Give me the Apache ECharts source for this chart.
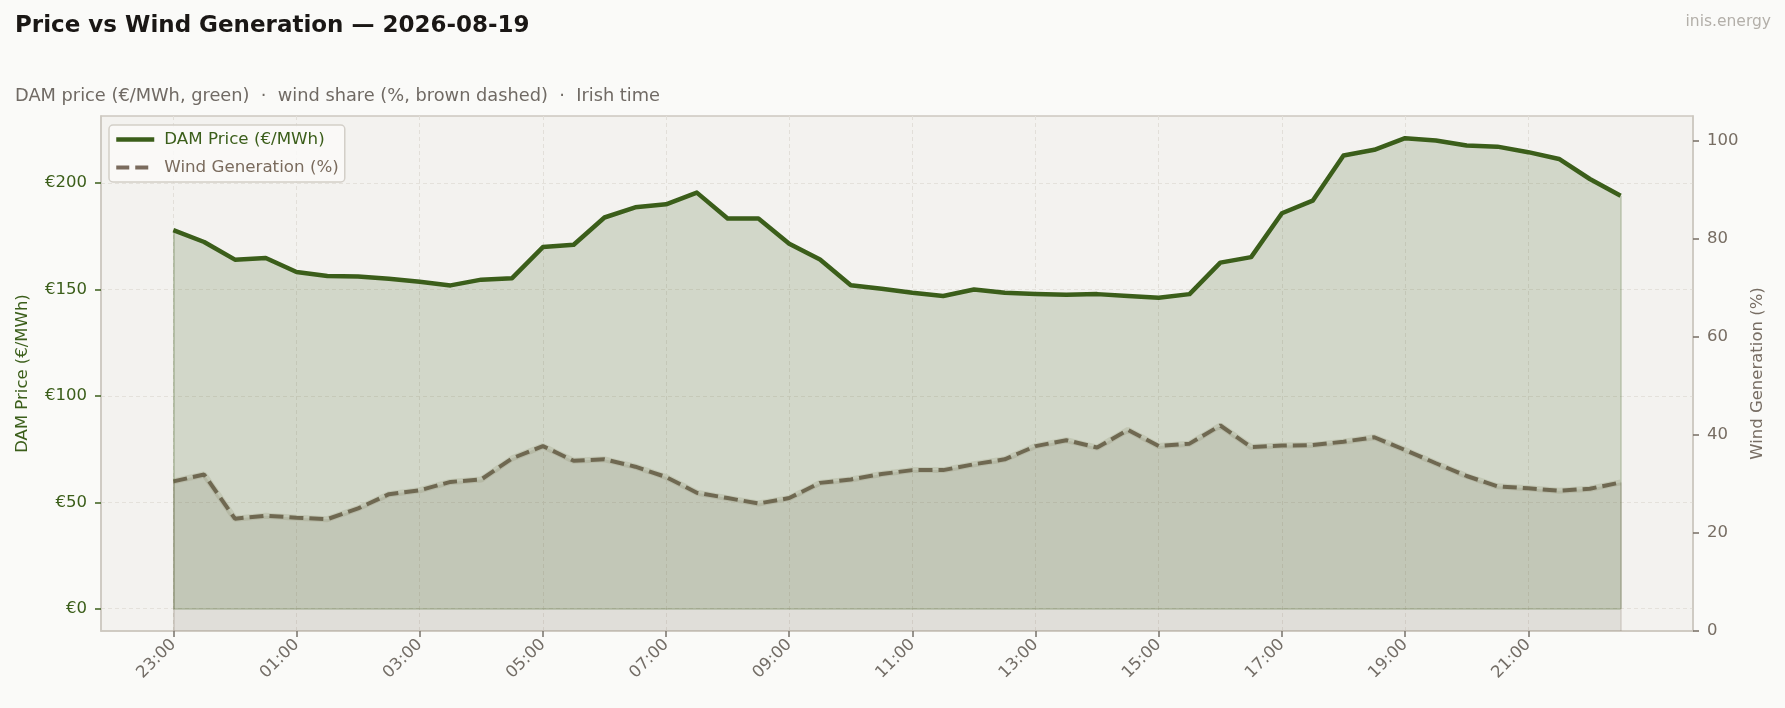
<!DOCTYPE html>
<html lang="en">
<head>
<meta charset="UTF-8">
<title>Price vs Wind Generation</title>
<script src="https://cdn.jsdelivr.net/npm/echarts@6/dist/echarts.min.js"></script>
<style>
html, body { margin: 0; padding: 0; background: #fafaf8; }
#main { width: 1785px; height: 708px; }
</style>
</head>
<body>
<div id="main"></div>
<script>
// half-hourly slots, Irish time
var times = ['23:00','23:30','00:00','00:30','01:00','01:30','02:00','02:30','03:00','03:30',
             '04:00','04:30','05:00','05:30','06:00','06:30','07:00','07:30','08:00','08:30',
             '09:00','09:30','10:00','10:30','11:00','11:30','12:00','12:30','13:00','13:30',
             '14:00','14:30','15:00','15:30','16:00','16:30','17:00','17:30','18:00','18:30',
             '19:00','19:30','20:00','20:30','21:00','21:30','22:00','22:30'];

// DAM price, €/MWh
var price = [177.9, 172.3, 164.0, 164.8, 158.2, 156.3, 156.1, 155.0, 153.6, 151.9,
             154.6, 155.3, 169.9, 171.0, 183.8, 188.6, 190.0, 195.5, 183.3, 183.3,
             171.5, 164.1, 152.0, 150.3, 148.4, 146.9, 150.0, 148.4, 147.8, 147.5,
             147.8, 146.9, 146.1, 147.8, 162.6, 165.2, 185.8, 191.7, 212.9, 215.6,
             221.1, 220.0, 217.6, 217.1, 214.5, 211.3, 201.9, 194.0];

// wind share, %
var wind = [30.5, 31.9, 22.9, 23.5, 23.1, 22.8, 25.0, 27.9, 28.7, 30.4,
            30.9, 35.2, 37.7, 34.7, 35.0, 33.5, 31.4, 28.2, 27.1, 26.0,
            27.1, 30.2, 30.9, 32.0, 32.8, 32.8, 34.0, 35.0, 37.7, 38.9,
            37.4, 41.0, 37.7, 38.2, 41.9, 37.5, 37.8, 37.9, 38.6, 39.5,
            36.9, 34.2, 31.6, 29.5, 29.1, 28.6, 29.0, 30.3];

var timeTicks = [0, 4, 8, 12, 16, 20, 24, 28, 32, 36, 40, 44];
var priceTicks = [0, 50, 100, 150, 200];
var windTicks = [0, 20, 40, 60, 80, 100];

var green = '#3b5e1a';
var brown = '#7a6b5d';
var font = 'DejaVu Sans';

function pairs(arr) {
    var out = [];
    for (var i = 0; i < arr.length; i++) {
        out.push([i, arr[i]]);
    }
    return out;
}

// outline of a fill_between polygon: both ends + the base
function fillEdges(arr) {
    var last = arr.length - 1;
    return [
        [{ coord: [0, 0] }, { coord: [0, arr[0]] }],
        [{ coord: [last, 0] }, { coord: [last, arr[last]] }],
        [{ coord: [0, 0] }, { coord: [last, 0] }]
    ];
}

var myChart = echarts.init(document.getElementById('main'));

var option = {
    backgroundColor: '#fafaf8',
    animation: false,
    textStyle: { fontFamily: font },
    title: [
        {
            text: 'Price vs Wind Generation \u2014 2026-08-19',
            left: 15, top: 15, padding: 0,
            textStyle: { fontFamily: font, fontSize: 23, fontWeight: 'bold', color: '#1a1715' }
        },
        {
            text: 'DAM price (\u20ac/MWh, green)  \u00b7  wind share (%, brown dashed)  \u00b7  Irish time',
            left: 15, top: 87, padding: 0,
            textStyle: { fontFamily: font, fontSize: 17.8, fontWeight: 'normal', color: '#706a64' }
        },
        {
            text: 'inis.energy',
            right: 14, top: 14, padding: 0,
            textStyle: { fontFamily: font, fontSize: 15.5, fontWeight: 'normal', color: '#b3afa9' }
        }
    ],
    legend: {
        orient: 'vertical',
        left: 109, top: 125,
        padding: [6, 6, 6, 5],
        itemWidth: 38, itemHeight: 14, itemGap: 11,
        backgroundColor: 'rgba(250,250,248,0.85)',
        borderColor: '#d3cfc8', borderWidth: 1.5, borderRadius: 4,
        itemStyle: { opacity: 0 },
        textStyle: { fontFamily: font, fontSize: 16.7, padding: [0, 0, 0, 5] },
        data: [
            {
                name: 'DAM Price (\u20ac/MWh)',
                textStyle: { color: green },
                lineStyle: { color: green, width: 4.5, type: 'solid' }
            },
            {
                name: 'Wind Generation (%)',
                textStyle: { color: brown },
                lineStyle: { color: brown, width: 4, type: [13, 6] }
            }
        ]
    },
    grid: {
        left: 101, right: 92, top: 116, bottom: 77,
        show: true,
        backgroundColor: '#f3f2ef',
        borderColor: '#cdc8c0',
        borderWidth: 1.5
    },
    xAxis: {
        type: 'value',
        min: -2.35, max: 49.35,
        axisLine: { show: true, onZero: false, lineStyle: { color: '#cdc8c0', width: 1.5 } },
        axisTick: { show: true, customValues: timeTicks, length: 6, lineStyle: { color: '#77716a', width: 1.5 } },
        axisLabel: {
            customValues: timeTicks,
            formatter: function (v) { return times[Math.round(v)] || ''; },
            rotate: 45, margin: 11,
            color: '#736d66', fontSize: 16.5, fontFamily: font
        },
        splitLine: { show: true, lineStyle: { color: '#e2dfd9', type: [4, 3], width: 1 } }
    },
    yAxis: [
        {
            type: 'value',
            position: 'left',
            min: -10.5, max: 231.5,
            name: 'DAM Price (\u20ac/MWh)',
            nameLocation: 'middle', nameGap: 70, nameRotate: 90,
            nameTextStyle: { color: green, fontSize: 16.5, fontFamily: font },
            axisLine: { show: true, onZero: false, lineStyle: { color: '#cdc8c0', width: 1.5 } },
            axisTick: { show: true, customValues: priceTicks, length: 6, lineStyle: { color: green, width: 1.5 } },
            axisLabel: {
                customValues: priceTicks,
                formatter: function (v) { return '\u20ac' + v; },
                margin: 14, color: green, fontSize: 16.5, fontFamily: font
            },
            splitLine: { show: true, lineStyle: { color: '#e4e1db', type: [4, 3], width: 1 } }
        },
        {
            type: 'value',
            position: 'right',
            min: 0, max: 105,
            name: 'Wind Generation (%)',
            nameLocation: 'middle', nameGap: 56, nameRotate: 90,
            nameTextStyle: { color: '#776d63', fontSize: 16.5, fontFamily: font },
            axisLine: { show: true, onZero: false, lineStyle: { color: '#cdc8c0', width: 1.5 } },
            axisTick: { show: true, customValues: windTicks, length: 6, lineStyle: { color: '#776d63', width: 1.5 } },
            axisLabel: {
                customValues: windTicks,
                margin: 14, color: '#776d63', fontSize: 16.5, fontFamily: font
            },
            splitLine: { show: false }
        }
    ],
    series: [
        {
            name: 'DAM Price (\u20ac/MWh)',
            type: 'line',
            yAxisIndex: 0,
            data: pairs(price),
            symbol: 'none',
            z: 4,
            lineStyle: { color: green, width: 4.5, join: 'round' },
            itemStyle: { color: green },
            areaStyle: { color: 'rgb(59,94,26)', opacity: 0.18, origin: 0 },
            markLine: {
                silent: true, symbol: 'none', label: { show: false },
                lineStyle: { color: 'rgba(59,94,26,0.28)', width: 1.5, type: 'solid' },
                data: fillEdges(price)
            }
        },
        {
            name: 'windHalo',
            type: 'line',
            yAxisIndex: 1,
            data: pairs(wind),
            symbol: 'none',
            z: 2,
            silent: true,
            lineStyle: { color: 'rgba(222,219,211,0.9)', width: 6 }
        },
        {
            name: 'Wind Generation (%)',
            type: 'line',
            yAxisIndex: 1,
            data: pairs(wind),
            symbol: 'none',
            z: 3,
            lineStyle: { color: brown, width: 4, type: [14, 6] },
            itemStyle: { color: brown },
            areaStyle: { color: 'rgb(122,107,93)', opacity: 0.15, origin: 0 },
            markLine: {
                silent: true, symbol: 'none', label: { show: false },
                lineStyle: { color: 'rgba(122,107,93,0.25)', width: 1.5, type: 'solid' },
                data: fillEdges(wind).slice(0, 2)
            }
        }
    ]
};

myChart.setOption(option);
</script>
</body>
</html>
